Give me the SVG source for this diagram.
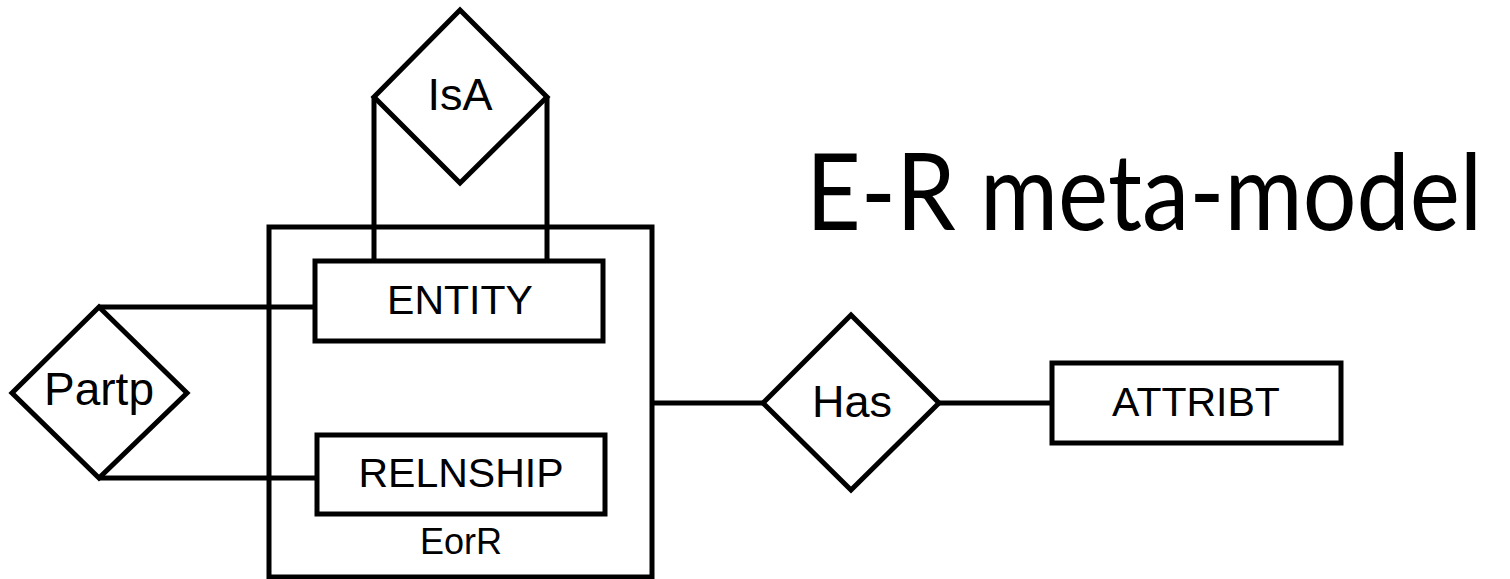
<svg xmlns="http://www.w3.org/2000/svg" width="1510" height="579" viewBox="0 0 1510 579">
  <style>
    .shape { fill: #ffffff; stroke: #000000; stroke-width: 5; stroke-linejoin: miter; }
    .link { fill: none; stroke: #000000; stroke-width: 5; }
    .lbl { font-family: "Liberation Sans", Arial, sans-serif; fill: #000000; text-anchor: middle; }
    .title { font-family: "Comic Sans MS", "Lato", "DejaVu Sans", sans-serif; fill: #000000; }
  </style>
  <rect width="1510" height="579" fill="#ffffff"/>

  <!-- title, stretched vertically a little -->
  <text class="title" transform="translate(806,230) scale(1,1.12)" x="0" y="0" font-size="95">E-R meta-model</text>

  <!-- EorR container -->
  <g id="eorr">
    <rect class="shape" x="269" y="227" width="383" height="350"/>
    <text class="lbl" x="461" y="554" font-size="36">EorR</text>
  </g>

  <!-- connectors -->
  <g id="connectors">
    <polyline class="link" points="374,97 374,261"/>
    <polyline class="link" points="547,97 547,261"/>
    <polyline class="link" points="99,307 315,307"/>
    <polyline class="link" points="99,478 317,478"/>
    <polyline class="link" points="652,403 763,403"/>
    <polyline class="link" points="939,403 1052,403"/>
  </g>

  <g id="isa">
    <polygon class="shape" points="460,10 547,97 460,183 374,97"/>
    <text class="lbl" x="460" y="110" font-size="45">IsA</text>
  </g>

  <g id="entity">
    <rect class="shape" x="315" y="261" width="288" height="80"/>
    <text class="lbl" x="460" y="314" font-size="41">ENTITY</text>
  </g>

  <g id="relnship">
    <rect class="shape" x="317" y="435" width="288" height="79"/>
    <text class="lbl" x="461" y="487" font-size="41">RELNSHIP</text>
  </g>

  <g id="partp">
    <polygon class="shape" points="99,307 187,393 99,478 12,393"/>
    <text class="lbl" x="99" y="405" font-size="46">Partp</text>
  </g>

  <g id="has">
    <polygon class="shape" points="851,315 939,403 851,490 763,403"/>
    <text class="lbl" x="852" y="417" font-size="45">Has</text>
  </g>

  <g id="attribt">
    <rect class="shape" x="1052" y="363" width="289" height="80"/>
    <text class="lbl" x="1196" y="416" font-size="41">ATTRIBT</text>
  </g>
</svg>
